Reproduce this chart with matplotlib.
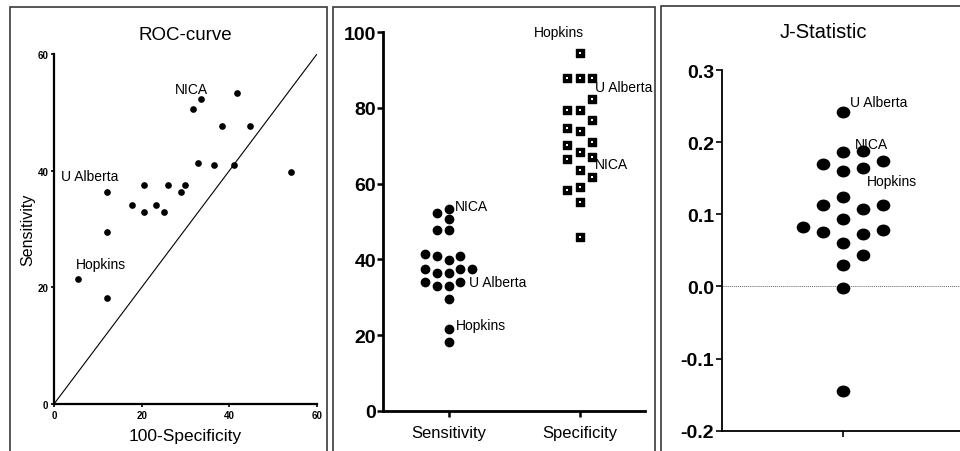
import numpy as np
import matplotlib
matplotlib.use("Agg")
import matplotlib.pyplot as plt
from matplotlib.patches import Rectangle
from matplotlib.path import Path
from matplotlib.ticker import FormatStrFormatter

plt.rcParams['font.family'] = ['Liberation Sans', 'DejaVu Sans']
plt.rcParams['axes.unicode_minus'] = False

# one entry per study
studies = ['Hopkins', '', '', 'U Alberta', '', '', '', '', '', '', '',
           '', '', 'NICA', '', '', '', '', '', '', '']
sensitivity = [21.5, 18.2, 29.5, 36.4, 34.1, 37.5, 33.0, 34.1, 33.0, 37.5, 36.4,
               37.5, 50.6, 52.3, 41.3, 41.0, 47.7, 41.0, 53.3, 47.7, 39.8]
specificity = [94.5, 88.0, 88.0, 88.0, 82.3, 79.5, 79.5, 76.8, 74.8, 73.9, 71.1,
               70.1, 68.3, 66.5, 67.1, 63.6, 61.7, 59.0, 58.2, 55.2, 45.9]
j_stat = [0.160, 0.060, 0.174, 0.242, 0.164, 0.170, 0.124, 0.107, 0.078, 0.113, 0.073,
          0.076, 0.188, 0.187, 0.083, 0.044, 0.094, -0.002, 0.113, 0.029, -0.145]

roc_ticks = [0, 20, 40, 60]
pct_ticks = [0, 20, 40, 60, 80, 100]
j_ticks = [-0.2, -0.1, 0.0, 0.1, 0.2, 0.3]
categories = ['Sensitivity', 'Specificity']

# label offsets in points: (dx, dy, ha)
roc_labels = {'NICA': (-7, 7, 'center'), 'U Alberta': (-12, 11.5, 'center'),
              'Hopkins': (-1.5, 10.5, 'left')}
sens_labels = {'NICA': (4.3, 4.7, 'left'), 'U Alberta': (14.6, -6.3, 'left'),
               'Hopkins': (5, 3.1, 'left')}
spec_labels = {'Hopkins': (-14.9, 15, 'center'), 'U Alberta': (11, -6.5, 'left'),
               'NICA': (11, -3.6, 'left')}
j_labels = {'U Alberta': (5.3, 7, 'left'), 'NICA': (8.4, 5.6, 'left'),
            'Hopkins': (17.3, -7.4, 'left')}


def swarm(values, gap, order=(0, -1, 1, -2, 2, -3, 3)):
    """Prism-like column scatter: put each point in the first free column."""
    values = np.asarray(values)
    slots = np.zeros(len(values), dtype=int)
    placed = {k: [] for k in order}
    for i in np.argsort(values, kind='stable'):
        v = values[i]
        for k in order:
            if all(abs(v - u) >= gap for u in placed[k]):
                slots[i] = k
                placed[k].append(v)
                break
    return slots


def label_points(ax, xs, ys, offsets):
    for name, x, y in zip(studies, xs, ys):
        if name in offsets:
            dx, dy, ha = offsets[name]
            ax.annotate(name, (x, y), xytext=(dx, dy), textcoords='offset points',
                        ha=ha, va='center', fontsize=10, annotation_clip=False)


W, H = 960, 452
fig = plt.figure(figsize=(9.6, 4.52), dpi=100)


def px_axes(l, t, r, b):
    ax = fig.add_axes([l / W, 1 - b / H, (r - l) / W, (b - t) / H])
    ax.set_facecolor('none')
    for s in ['top', 'right']:
        ax.spines[s].set_visible(False)
    return ax


# panel frames
for l, t, r, b in [(9.5, 7.5, 326.5, 470), (333, 8, 655, 470), (660.5, 7, 990, 470)]:
    fig.add_artist(Rectangle((l / W, 1 - b / H), (r - l) / W, (b - t) / H,
                             transform=fig.transFigure, fill=False,
                             ec='#3a3a3a', lw=1.2))

# ---- ROC curve
ax1 = px_axes(54, 55, 317, 405)
x_roc = 100 - np.array(specificity)
ax1.axline((0, 0), slope=1, color='black', lw=0.8)
ax1.scatter(x_roc, sensitivity, s=3.8 ** 2, color='black', zorder=3, clip_on=False)
ax1.set_xlim(0, 60)
ax1.set_ylim(0, 60)
ax1.set_xticks(roc_ticks)
ax1.set_yticks(roc_ticks)
ax1.tick_params(length=2.5, width=1.2, labelsize=7, pad=1.5)
for lab in ax1.get_xticklabels() + ax1.get_yticklabels():
    lab.set_fontweight('bold')
for s in ['left', 'bottom']:
    ax1.spines[s].set_linewidth(1.6)
ax1.set_xlabel('100-Specificity', fontsize=12.5, va='center')
ax1.xaxis.set_label_coords(0.5, -0.0914)
ax1.set_ylabel('Sensitivity', fontsize=11.5, va='center')
ax1.yaxis.set_label_coords(-0.099, 0.5)
label_points(ax1, x_roc, sensitivity, roc_labels)
fig.text(185 / W, 1 - 35 / H, 'ROC-curve', fontsize=13.5, ha='center', va='center')

# ---- Sensitivity / Specificity scatter
ax2 = px_axes(383, 33.3, 645, 411.7)
sens_slot = swarm(sensitivity, 2.2)
spec_slot = swarm(specificity, 3.55)
ax2.scatter(0 + sens_slot * 0.09, sensitivity, s=6.0 ** 2, marker='o',
            color='black', zorder=3)
spec_x = 1 + spec_slot * 0.092
ax2.scatter(spec_x, specificity, s=5.3 ** 2, marker='s', color='black', zorder=3)
ax2.scatter(spec_x, specificity, s=1.1 ** 2, marker='s', color='white', lw=0, zorder=4)
ax2.set_xlim(-0.5, 1.5)
ax2.set_ylim(0, 100)
ax2.set_yticks(pct_ticks)
ax2.set_xticks([0, 1])
ax2.set_xticklabels(categories, fontsize=12)
ax2.tick_params(axis='y', length=4, width=1.8, labelsize=14, pad=1)
ax2.tick_params(axis='x', length=4, width=1.8, pad=6)
for lab in ax2.get_yticklabels():
    lab.set_fontweight('bold')
for s in ['left', 'bottom']:
    ax2.spines[s].set_linewidth(2.0)
label_points(ax2, np.zeros(len(studies)), sensitivity, sens_labels)
label_points(ax2, np.ones(len(studies)), specificity, spec_labels)

# ---- J statistic
ax3 = px_axes(721.7, 71, 964, 431.7)
circ = Path.unit_circle()
blob = Path(circ.vertices * [1, 0.86], circ.codes)
j_slot = swarm(j_stat, 0.0235, order=(0, 1, -1, 2, -2, 3, -3))
ax3.axhline(0, color='#666666', lw=0.7, ls=(0, (1, 1)))
ax3.scatter(j_slot * 0.165, j_stat, s=8.8 ** 2, marker=blob, color='black', zorder=3)
ax3.set_xlim(-1, 1)
ax3.set_ylim(-0.2, 0.3)
ax3.set_yticks(j_ticks)
ax3.yaxis.set_major_formatter(FormatStrFormatter('%.1f'))
ax3.set_xticks([0])
ax3.set_xticklabels([''])
ax3.tick_params(length=4, width=1.2, labelsize=14, pad=1.5)
for lab in ax3.get_yticklabels():
    lab.set_fontweight('bold')
for s in ['left', 'bottom']:
    ax3.spines[s].set_linewidth(1.3)
label_points(ax3, np.zeros(len(studies)), j_stat, j_labels)
fig.text(823 / W, 1 - 33 / H, 'J-Statistic', fontsize=14.5, ha='center', va='center')

fig.savefig('out.png', dpi=100)
